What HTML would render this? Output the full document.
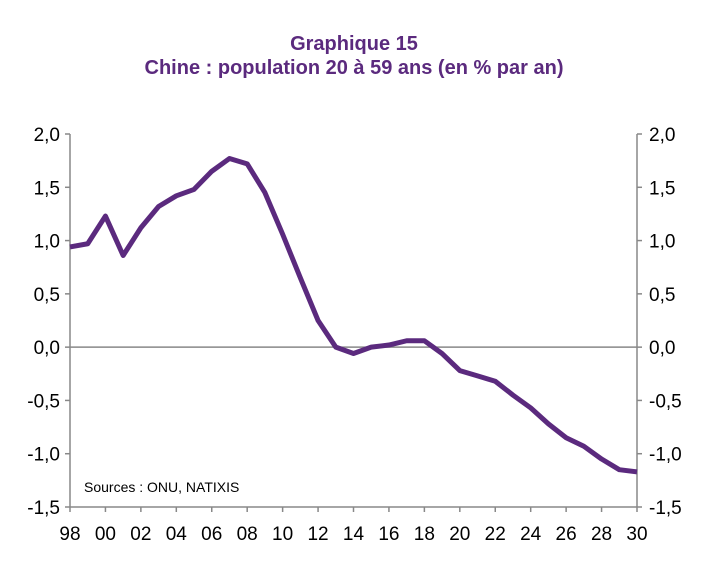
<!DOCTYPE html>
<html><head><meta charset="utf-8"><style>
body{margin:0;background:#fff;width:708px;height:562px;overflow:hidden}
svg{display:block;font-family:"Liberation Sans",sans-serif}
</style></head><body>
<svg width="708" height="562">
<text x="354" y="50" text-anchor="middle" font-size="20" font-weight="bold" fill="#5b2a7e">Graphique 15</text>
<text x="354" y="74" text-anchor="middle" font-size="20" font-weight="bold" fill="#5b2a7e">Chine : population 20 à 59 ans (en % par an)</text>
<g id="axes"></g>
<text x="84" y="492" font-size="14" fill="#000">Sources  : ONU, NATIXIS</text>
</svg>
<script>
const years=[1998,1999,2000,2001,2002,2003,2004,2005,2006,2007,2008,2009,2010,2011,2012,2013,2014,2015,2016,2017,2018,2019,2020,2021,2022,2023,2024,2025,2026,2027,2028,2029,2030];
const values=[0.94,0.97,1.23,0.86,1.12,1.32,1.42,1.48,1.65,1.77,1.72,1.45,1.06,0.65,0.25,0.0,-0.06,0.0,0.02,0.06,0.06,-0.06,-0.22,-0.27,-0.32,-0.45,-0.57,-0.72,-0.85,-0.93,-1.05,-1.15,-1.17];
const yTicks=[2.0,1.5,1.0,0.5,0.0,-0.5,-1.0,-1.5];
const xTickYears=[1998,2000,2002,2004,2006,2008,2010,2012,2014,2016,2018,2020,2022,2024,2026,2028,2030];
const L=70,R=637,T=134,B=507;
const xs=y=>L+(y-1998)/(2030-1998)*(R-L);
const ys=v=>T+(2.0-v)/3.5*(B-T);
const ns="http://www.w3.org/2000/svg";
const g=document.getElementById('axes');
function mk(tag,at){const e=document.createElementNS(ns,tag);for(const k in at)e.setAttribute(k,at[k]);g.appendChild(e);return e;}
let e;
e=mk('line',{x1:L,y1:T,x2:L,y2:B,stroke:'#888','stroke-width':1.5});


e=mk('line',{x1:R,y1:T,x2:R,y2:B,stroke:'#888','stroke-width':1.5});


e=mk('line',{x1:L,y1:B,x2:R,y2:B,stroke:'#888','stroke-width':1.5});


e=mk('line',{x1:L,y1:ys(0),x2:R,y2:ys(0),stroke:'#888','stroke-width':1.5});


yTicks.forEach(v=>{
 const y=ys(v);const lab=v.toFixed(1).replace('.',',');
 mk('line',{x1:L-5,y1:y,x2:L,y2:y,stroke:'#888','stroke-width':1.5});
 mk('line',{x1:R,y1:y,x2:R+5,y2:y,stroke:'#888','stroke-width':1.5});
 e=mk('text',{x:L-10,y:y+7,'text-anchor':'end','font-size':19,fill:'#000'});e.textContent=lab;
 
 
 e=mk('text',{x:R+12,y:y+7,'text-anchor':'start','font-size':19,fill:'#000'});e.textContent=lab;
 
 
});
xTickYears.forEach(yr=>{
 const x=xs(yr);
 mk('line',{x1:x,y1:B,x2:x,y2:B+5,stroke:'#888','stroke-width':1.5});
 e=mk('text',{x:x,y:B+33,'text-anchor':'middle','font-size':19,fill:'#000'});e.textContent=String(yr%100).padStart(2,'0');
 
 
});
e=mk('polyline',{points:years.map((y,i)=>xs(y)+','+ys(values[i])).join(' '),fill:'none',stroke:'#5b2a7e','stroke-width':5,'stroke-linejoin':'round'});


</script>
</body></html>
